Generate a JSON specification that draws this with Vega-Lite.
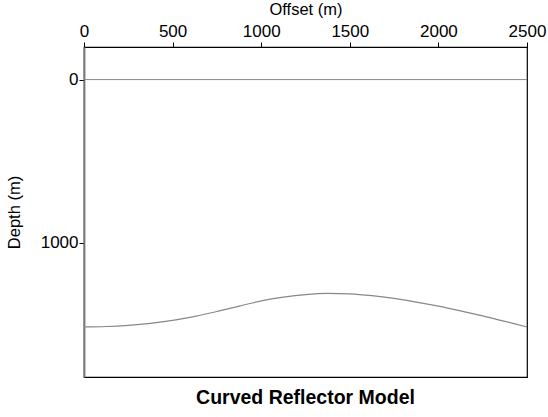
{
  "$schema": "https://vega.github.io/schema/vega-lite/v6.json",
  "width": 443,
  "height": 330,
  "autosize": {"type": "none"},
  "padding": {"left": 84, "top": 47, "right": 21, "bottom": 40},
  "background": "white",
  "config": {
    "font": "Liberation Sans",
    "view": {"stroke": "black", "strokeWidth": 1.2},
    "axis": {"grid": false, "labelFont": "Liberation Sans", "titleFont": "Liberation Sans", "titleFontWeight": "normal", "labelColor": "black", "titleColor": "black", "tickColor": "black", "domainColor": "black"}
  },
  "title": {
    "text": "Curved Reflector Model",
    "orient": "bottom",
    "anchor": "middle",
    "fontSize": 19.5,
    "fontWeight": "bold",
    "font": "Liberation Sans",
    "color": "black",
    "offset": 12
  },
  "datasets": {
    "surface": [
      {"offset": 0, "depth": 0},
      {"offset": 2500, "depth": 0}
    ],
    "reflector": [
      {"offset": 0, "depth": 1518},
      {"offset": 125, "depth": 1515},
      {"offset": 250, "depth": 1508},
      {"offset": 375, "depth": 1496},
      {"offset": 500, "depth": 1478},
      {"offset": 625, "depth": 1453},
      {"offset": 750, "depth": 1423},
      {"offset": 875, "depth": 1390},
      {"offset": 1000, "depth": 1358},
      {"offset": 1125, "depth": 1335},
      {"offset": 1250, "depth": 1319},
      {"offset": 1375, "depth": 1312},
      {"offset": 1500, "depth": 1315},
      {"offset": 1625, "depth": 1326},
      {"offset": 1750, "depth": 1343},
      {"offset": 1875, "depth": 1365},
      {"offset": 2000, "depth": 1390},
      {"offset": 2125, "depth": 1419},
      {"offset": 2250, "depth": 1450},
      {"offset": 2375, "depth": 1484},
      {"offset": 2500, "depth": 1518}
    ]
  },
  "encoding": {
    "x": {
      "field": "offset",
      "type": "quantitative",
      "scale": {"domain": [0, 2500], "nice": false, "zero": false},
      "axis": {
        "orient": "top",
        "title": "Offset (m)",
        "format": "d",
        "values": [0, 500, 1000, 1500, 2000, 2500],
        "labelFontSize": 17,
        "titleFontSize": 16.5,
        "tickSize": 5,
        "labelPadding": 2,
        "labelFlush": false,
        "labelOverlap": false,
        "titleBaseline": "alphabetic",
        "titleY": -33,
        "domain": false
      }
    },
    "y": {
      "field": "depth",
      "type": "quantitative",
      "scale": {"domain": [-200, 1825], "reverse": true, "nice": false, "zero": false},
      "axis": {
        "title": "Depth (m)",
        "format": "d",
        "values": [0, 1000],
        "labelFontSize": 17,
        "titleFontSize": 16.5,
        "tickSize": 5,
        "labelPadding": 1,
        "labelFlush": false,
        "titleAngle": -90,
        "titleX": -70,
        "titleY": 165,
        "titleAlign": "center",
        "titleBaseline": "middle",
        "domainColor": "#777777",
        "domainWidth": 1.8
      }
    }
  },
  "layer": [
    {
      "data": {"name": "surface"},
      "mark": {"type": "line", "color": "#888888", "strokeWidth": 1}
    },
    {
      "data": {"name": "reflector"},
      "mark": {"type": "line", "color": "#888888", "strokeWidth": 1.2, "interpolate": "monotone"}
    }
  ]
}
